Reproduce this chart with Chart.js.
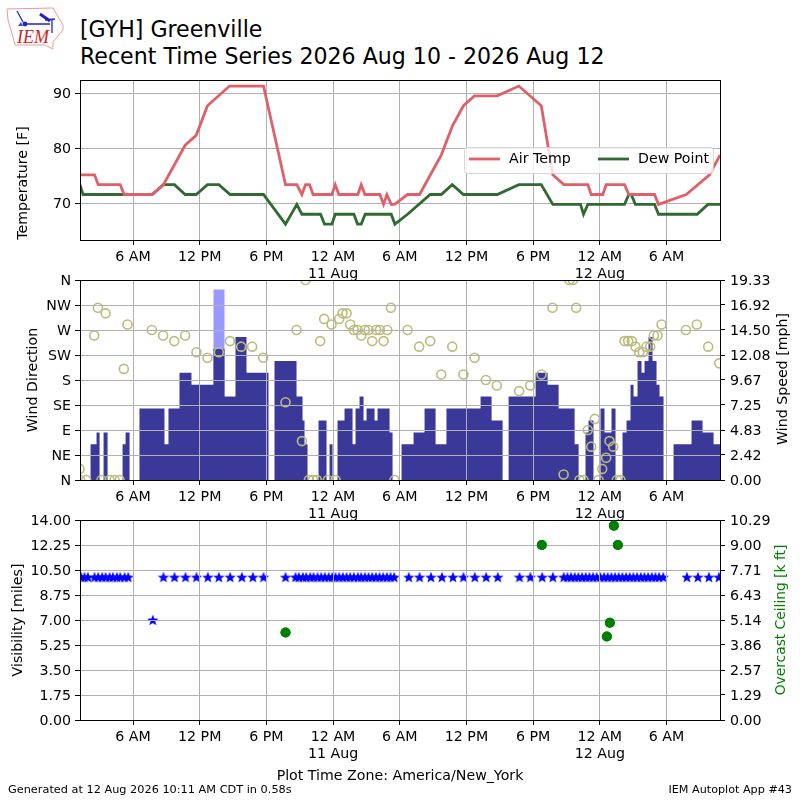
<!DOCTYPE html>
<html>
<head>
<meta charset="utf-8">
<title>[GYH] Greenville</title>
<script src="https://cdn.jsdelivr.net/npm/chart.js@4"></script>
<style>
  html, body { margin: 0; padding: 0; background: #fff; }
  #page { position: relative; width: 800px; height: 800px; overflow: hidden;
          font-family: "DejaVu Sans", sans-serif; color: #000; }
  #page canvas { position: absolute; left: 0; }
  .txt { position: absolute; white-space: nowrap; line-height: 1; }
  .vlabel { position: absolute; white-space: nowrap; line-height: 1; font-size: 14.2px;
            transform: translate(-50%, -50%) rotate(-90deg); }
</style>
</head>
<body>
<div id="page">
  <svg style="position:absolute;left:0;top:0" width="70" height="54">
    <path d="M7 9 L53 8 L57 15 L63 25 L63 30 L57 37 L53 42 L53 49 L45 45 L15 45 L13 37 L8 20 Z"
          fill="#fff" stroke="#ee9999" stroke-width="1"/>
    <path d="M25 24 L50 24 M17 11 L23 22 M45 20 L55 19 M52 20 L52 33" stroke="#2222cc" stroke-width="1.3" fill="none"/>
    <path d="M40 14 L50 21" stroke="#2222cc" stroke-width="3" fill="none"/>
    <circle cx="25" cy="24" r="2.4" fill="#2222cc"/>
    <path d="M18 26 L21 22 L23 26 Z" fill="#4444cc"/>
    <text x="17" y="43" font-family="Liberation Serif" font-style="italic" font-size="18" fill="#d22222">IEM</text>
  </svg>
  <div class="txt" style="left:80px;top:18px;font-size:22.1px">[GYH] Greenville</div>
  <div class="txt" style="left:80px;top:45px;font-size:22.1px">Recent Time Series 2026 Aug 10 - 2026 Aug 12</div>

  <canvas id="tempChart" width="800" height="225" style="top:60px"></canvas>
  <canvas id="windChart" width="800" height="265" style="top:260px"></canvas>
  <canvas id="visChart" width="800" height="265" style="top:500px"></canvas>

  <div class="vlabel" style="left:22px;top:183px">Temperature [F]</div>
  <div class="vlabel" style="left:32px;top:380px">Wind Direction</div>
  <div class="vlabel" style="left:782px;top:379px">Wind Speed [mph]</div>
  <div class="vlabel" style="left:17px;top:620px">Visibility [miles]</div>
  <div class="vlabel" style="left:781px;top:620px;color:#008000;font-size:13.8px">Overcast Ceiling [k ft]</div>

  <div class="txt" style="left:0;width:800px;top:768px;text-align:center;font-size:14.2px">Plot Time Zone: America/New_York</div>
  <div class="txt" style="left:8px;top:784px;font-size:11.3px">Generated at 12 Aug 2026 10:11 AM CDT in 0.58s</div>
  <div class="txt" style="right:8px;top:784px;font-size:11.2px">IEM Autoplot App #43</div>
</div>

<script>
// x values are hours since midnight 10 Aug, America/New_York
const X_MIN = 1.23;
const X_MAX = 58.81;
const timeTicks = [6, 12, 18, 24, 30, 36, 42, 48, 54];
const timeLabels = ['6 AM', '12 PM', '6 PM', ['12 AM', '11 Aug'], '6 AM', '12 PM', '6 PM', ['12 AM', '12 Aug'], '6 AM'];

// Air temperature [F]
const tempHours = [1.23, 2.54, 2.87, 4.85, 5.2, 7.72, 8.74, 10.69, 11.68, 12.7, 14.68, 17.74, 19.72, 20.74, 21.19, 21.52,
    21.88, 22.21, 23.89, 24.19, 24.52, 26.23, 26.53, 26.86, 28.21, 28.54, 28.84, 29.23, 29.53, 30.7, 31.78, 33.73, 34.75,
    35.73, 36.72, 38.77, 40.71, 42.73, 43.77, 44.76, 46.92, 47.22, 48.27, 48.57, 50.22, 50.61, 52.92, 53.28, 55.77, 57.87, 58.81];
const tempValues = [75.2, 75.2, 73.4, 73.4, 71.6, 71.6, 73.4, 80.6, 82.4, 87.8, 91.4, 91.4, 73.4, 73.4, 71.6, 73.4,
    73.4, 71.6, 71.6, 73.4, 71.6, 71.6, 73.4, 71.6, 71.6, 69.8, 71.6, 69.8, 69.8, 71.6, 71.6, 78.8, 84.2,
    87.8, 89.6, 89.6, 91.4, 87.8, 75.2, 73.4, 73.4, 71.6, 71.6, 73.4, 73.4, 71.6, 71.6, 69.8, 71.6, 75.2, 78.8];

// Dew point [F]
const dewHours = [1.23, 1.5, 7.72, 8.74, 9.73, 10.69, 11.68, 12.7, 13.72, 14.74, 17.74, 19.72, 20.74, 21.19, 22.87, 23.23,
    23.89, 24.19, 25.87, 26.2, 26.53, 26.89, 29.23, 29.56, 30.7, 32.74, 33.73, 34.72, 35.73, 38.77, 40.71, 42.73, 43.77,
    46.26, 46.53, 46.92, 50.22, 50.61, 50.82, 51.2, 52.92, 53.28, 56.76, 57.72, 58.81];
const dewValues = [73.4, 71.6, 71.6, 73.4, 73.4, 71.6, 71.6, 73.4, 73.4, 71.6, 71.6, 66.2, 69.8, 68, 68, 66.2,
    66.2, 68, 68, 66.2, 66.2, 68, 68, 66.2, 68, 71.6, 71.6, 73.4, 71.6, 71.6, 73.4, 73.4, 69.8,
    69.8, 68, 69.8, 69.8, 71.6, 71.6, 69.8, 69.8, 68, 68, 69.8, 69.8];

// Wind speed [mph], each value holds from its edge to the next edge
const windEdges = [1.23, 2.18, 2.72, 2.99, 3.35, 3.71, 5.06, 5.33, 5.69, 6.58, 8.83, 9.19, 10.18, 11.26, 13.24, 14.23,
    15.22, 16.21, 18.19, 18.73, 20.71, 21.25, 21.43, 21.7, 22.69, 23.41, 23.68, 23.95, 24.4, 25.03, 25.75, 26.02, 26.38,
    26.74, 27.01, 27.73, 28, 29.08, 29.35, 30.16, 31.24, 32.23, 33.22, 34.2, 37.27, 38.26, 39.25, 39.79, 42.22, 43.3,
    44.29, 45.73, 46.09, 46.71, 46.98, 47.43, 48.06, 48.42, 49.05, 49.41, 50.04, 50.4, 50.76, 51.03, 51.39, 51.75, 52.02,
    52.38, 52.74, 53.1, 53.37, 53.73, 54.63, 56.25, 57.24, 58.23, 58.81];
const windSpeeds = [0, 3.45, 4.6, 0, 4.6, 0, 3.45, 4.6, 0, 6.9, 3.45, 6.9, 10.36, 9.21, 12.66, 8.06,
    13.81, 10.36, 0, 11.51, 8.06, 5.75, 3.45, 0, 5.75, 0, 3.45, 0, 5.75, 6.9, 3.45, 6.9, 8.06,
    5.75, 6.9, 5.75, 6.9, 4.6, 0, 3.45, 4.6, 6.9, 3.45, 6.9, 8.06, 5.75, 0, 8.06, 10.36, 9.21,
    6.9, 3.45, 0, 4.6, 5.75, 0, 6.9, 4.6, 6.9, 0, 4.6, 5.75, 9.21, 8.06, 11.51, 10.36, 11.51,
    13.81, 11.51, 9.21, 8.06, 0, 3.45, 5.75, 4.6, 3.45, 3.45];
const gustEdges = [1.23, 13.24, 14.23, 58.81];
const gustSpeeds = [0, 18.41, 0, 0];

// Wind direction [deg]
const dirHours = [1.19, 1.25, 1.79, 2.51, 2.84, 3.17, 3.53, 3.89, 4.34, 4.79, 5.17, 5.5, 7.69, 8.71, 9.71, 10.69, 11.71, 12.7,
    13.72, 14.72, 15.73, 16.72, 17.71, 19.72, 20.71, 21.2, 21.52, 21.82, 22.18, 22.54, 22.84, 23.2, 23.53, 23.86, 24.22, 24.55,
    24.85, 25.21, 25.54, 25.87, 26.2, 26.53, 26.86, 27.19, 27.52, 27.88, 28.21, 28.54, 28.87, 29.2, 29.53, 30.7, 31.74, 32.74,
    33.73, 34.72, 35.73, 36.73, 37.74, 38.73, 40.74, 41.73, 42.75, 43.74, 44.74, 45.27, 45.57, 45.87, 46.17, 46.53, 46.92, 47.22,
    47.55, 47.88, 48.21, 48.57, 48.87, 49.2, 49.53, 49.86, 50.22, 50.55, 50.88, 51.21, 51.54, 51.87, 52.2, 52.53, 52.86, 53.19,
    53.55, 55.74, 56.73, 57.75, 58.74];
const dirValues = [20, 0, 0, 260, 310, 0, 300, 0, 0, 0, 200, 280, 270, 260, 250, 260, 230, 220,
    230, 250, 240, 240, 220, 140, 270, 70, 360, 0, 0, 0, 250, 290, 0, 280, 0, 290,
    300, 300, 280, 270, 270, 260, 270, 270, 250, 270, 270, 250, 270, 310, 0, 270, 240, 250,
    190, 240, 190, 220, 180, 170, 160, 170, 190, 310, 10, 360, 360, 310, 0, 0, 90, 60,
    110, 0, 20, 40, 70, 60, 0, 0, 250, 250, 250, 240, 230, 230, 240, 240, 260, 260,
    280, 270, 280, 240, 210];
const dirTickLabels = ['N', 'NE', 'E', 'SE', 'S', 'SW', 'W', 'NW', 'N'];
const dirTicks = [0, 45, 90, 135, 180, 225, 270, 315, 360];
const speedTicks = [0, 2.42, 4.83, 7.25, 9.67, 12.08, 14.5, 16.92, 19.33];

// Visibility [miles]
const visHours = [1.34, 1.64, 1.94, 2.54, 2.87, 3.23, 3.53, 3.89, 4.19, 4.55, 4.85, 5.24, 5.57, 7.78, 8.74, 9.73, 10.72, 11.71,
    12.73, 13.72, 14.74, 15.79, 16.78, 17.74, 19.72, 20.62, 20.92, 21.28, 21.58, 21.94, 22.24, 22.6, 22.93, 23.26, 23.6,
    23.92, 24.22, 24.55, 24.88, 25.21, 25.54, 25.87, 26.23, 26.53, 26.86, 27.19, 27.52, 27.85, 28.18, 28.51, 28.84, 29.17, 29.5,
    30.81, 31.78, 32.8, 33.79, 34.78, 35.73, 36.75, 37.77, 38.82, 40.77, 41.75, 42.81, 43.77, 44.75, 45.08, 45.41, 45.74, 46.07,
    46.4, 46.73, 47.06, 47.39, 47.72, 48.05, 48.38, 48.71, 49.04, 49.37, 49.7, 50.03, 50.36, 50.69, 51.02, 51.35, 51.68, 52.01,
    52.34, 52.67, 53, 53.33, 53.7, 55.83, 56.82, 57.81, 58.71];
const visValues = visHours.map(h => h === 7.78 ? 7 : 10); // one reading of 7 mi, the rest are 10 mi
const visTicks = [0, 1.75, 3.5, 5.25, 7, 8.75, 10.5, 12.25, 14];

// Overcast ceiling [k ft]
const ceilHours = [19.72, 42.78, 48.63, 48.9, 49.26, 49.62];
const ceilValues = [4.5, 9, 4.3, 5, 10, 9];
const ceilTicks = [0, 1.29, 2.57, 3.86, 5.14, 6.43, 7.71, 9, 10.29];

const GRID = '#b0b0b0';
const AIR_COLOR = '#e0606a';
const DEW_COLOR = '#306a32';

Chart.defaults.font.family = "'DejaVu Sans', sans-serif";
Chart.defaults.font.size = 14.2;
Chart.defaults.color = '#000';

function xy(xs, ys) {
    return xs.map((x, i) => ({ x: x, y: ys[i] }));
}

function fixedTicks(values) {
    return function(scale) {
        scale.ticks = values.map(v => ({ value: v }));
    };
}

// Five pointed filled star, Chart.js 'star' is only stroked
function makeStar(size, color) {
    const c = document.createElement('canvas');
    c.width = size;
    c.height = size;
    const g = c.getContext('2d');
    const r = size / 2;
    g.fillStyle = color;
    g.beginPath();
    for (let i = 0; i < 10; i++) {
        const rad = i % 2 === 0 ? r : r * 0.42;
        const a = -Math.PI / 2 + i * Math.PI / 5;
        g.lineTo(r + rad * Math.cos(a), r + rad * Math.sin(a) + 0.5);
    }
    g.closePath();
    g.fill();
    return c;
}

// matplotlib style box around the axes
const framePlugin = {
    id: 'frame',
    afterDraw(chart) {
        const a = chart.chartArea;
        const ctx = chart.ctx;
        ctx.save();
        ctx.strokeStyle = '#000';
        ctx.lineWidth = 1;
        ctx.strokeRect(a.left + 0.5, a.top + 0.5, a.right - a.left, a.bottom - a.top);
        ctx.restore();
    }
};

// Legend sits inside the axes, semi transparent like the original
const tempLegend = {
    id: 'tempLegend',
    afterDatasetsDraw(chart) {
        const ctx = chart.ctx;
        const top = 87, mid = 99;
        ctx.save();
        ctx.beginPath();
        ctx.roundRect(464.5, top + 0.5, 249, 26, 3);
        ctx.fillStyle = 'rgba(255,255,255,0.8)';
        ctx.fill();
        ctx.strokeStyle = 'rgba(204,204,204,0.8)';
        ctx.stroke();
        ctx.lineWidth = 2.8;
        ctx.font = "14.2px 'DejaVu Sans'";
        ctx.textBaseline = 'middle';
        [[469, 509, 0], [598, 638, 1]].forEach(p => {
            const ds = chart.data.datasets[p[2]];
            ctx.strokeStyle = ds.borderColor;
            ctx.beginPath();
            ctx.moveTo(p[0], mid);
            ctx.lineTo(p[0] + 31, mid);
            ctx.stroke();
            ctx.fillStyle = '#000';
            ctx.fillText(ds.label, p[1], mid);
        });
        ctx.restore();
    }
};

// Ceiling dots go back on top of the grid, the stars stay under it
const ceilOnTop = {
    id: 'ceilOnTop',
    afterDraw(chart) {
        chart.getDatasetMeta(1).controller.draw();
    }
};

function xAxis(z) {
    return {
        type: 'linear',
        min: X_MIN,
        max: X_MAX,
        afterBuildTicks: fixedTicks(timeTicks),
        afterFit: s => { s.height = 45; },
        border: { display: false },
        grid: { color: GRID, tickColor: '#000', tickLength: 5, z: z },
        ticks: {
            autoSkip: false,
            maxRotation: 0,
            padding: 4,
            callback: (v) => timeLabels[timeTicks.indexOf(v)]
        }
    };
}

function yAxis(pos, min, max, values, labels, onArea, z) {
    return {
        type: 'linear',
        position: pos,
        min: min,
        max: max,
        afterBuildTicks: fixedTicks(values),
        afterFit: s => { s.width = 80; },
        border: { display: false },
        grid: { color: GRID, tickColor: '#000', tickLength: 5, drawOnChartArea: onArea, z: z },
        ticks: {
            autoSkip: false,
            padding: pos === 'right' ? 5 : 4,
            labelOffset: 1,
            callback: (v) => labels[values.indexOf(v)]
        }
    };
}

const baseOptions = {
    responsive: false,
    animation: false,
    layout: { autoPadding: false, padding: { top: 20 } },
    plugins: { legend: { display: false }, tooltip: { enabled: false } }
};

new Chart(document.getElementById('tempChart'), {
    type: 'line',
    data: {
        datasets: [
            { label: 'Air Temp', data: xy(tempHours, tempValues), borderColor: AIR_COLOR, borderWidth: 2.8, pointRadius: 0, tension: 0, clip: 0 },
            { label: 'Dew Point', data: xy(dewHours, dewValues), borderColor: DEW_COLOR, borderWidth: 2.8, pointRadius: 0, tension: 0, clip: 0 }
        ]
    },
    options: {
        ...baseOptions,
        layout: { autoPadding: false, padding: { top: 20, right: 80 } },
        scales: {
            x: xAxis(0),
            y: yAxis('left', 63.3, 92.5, [70, 80, 90], ['70', '80', '90'], true, 0)
        }
    },
    plugins: [framePlugin, tempLegend]
});

new Chart(document.getElementById('windChart'), {
    type: 'line',
    data: {
        datasets: [
            { label: 'Wind Direction', data: xy(dirHours, dirValues), yAxisID: 'dir', showLine: false, order: 1,
              pointStyle: 'circle', pointRadius: 4.5, pointBorderWidth: 1.6, pointBorderColor: '#bcbc7c',
              pointBackgroundColor: 'rgba(0,0,0,0)', clip: 0 },
            { label: 'Wind Speed', data: xy(windEdges, windSpeeds), yAxisID: 'speed', stepped: true, order: 2,
              borderWidth: 0, pointRadius: 0, fill: 'origin', backgroundColor: '#3a3898', clip: 0 },
            { label: 'Wind Gust', data: xy(gustEdges, gustSpeeds), yAxisID: 'speed', stepped: true, order: 3,
              borderWidth: 0, pointRadius: 0, fill: 'origin', backgroundColor: '#9999ff', clip: 0 }
        ]
    },
    options: {
        ...baseOptions,
        scales: {
            x: xAxis(1),
            dir: yAxis('left', 0, 360, dirTicks, dirTickLabels, true, 1),
            speed: yAxis('right', 0, 19.33, speedTicks, speedTicks.map(v => v.toFixed(2)), false, 0)
        }
    },
    plugins: [framePlugin]
});

new Chart(document.getElementById('visChart'), {
    type: 'line',
    data: {
        datasets: [
            { label: 'Visibility', data: xy(visHours, visValues), yAxisID: 'vis', showLine: false,
              pointStyle: makeStar(12, '#0000ff'), clip: 0 },
            { label: 'Ceiling', data: xy(ceilHours, ceilValues), yAxisID: 'ceil', showLine: false,
              pointStyle: 'circle', pointRadius: 5, pointBorderWidth: 0, pointBackgroundColor: '#008000', clip: 0 }
        ]
    },
    options: {
        ...baseOptions,
        scales: {
            x: xAxis(1),
            vis: yAxis('left', 0, 14, visTicks, visTicks.map(v => v.toFixed(2)), true, 1),
            ceil: yAxis('right', 0, 10.29, ceilTicks, ceilTicks.map(v => v.toFixed(2)), false, 0)
        }
    },
    plugins: [framePlugin, ceilOnTop]
});
</script>
</body>
</html>
